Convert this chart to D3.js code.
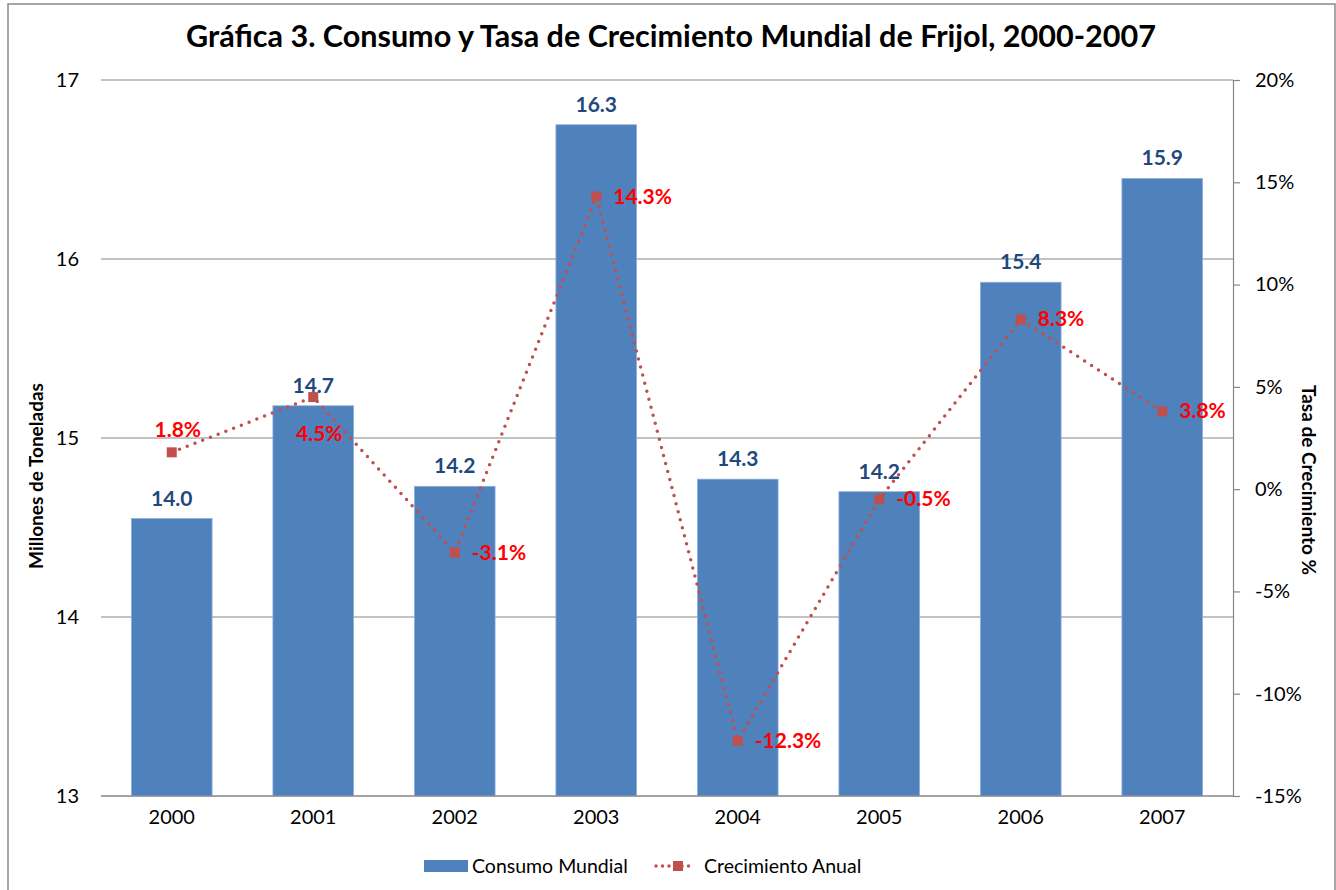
<!DOCTYPE html>
<html>
<head>
<meta charset="utf-8">
<script src="https://cdn.jsdelivr.net/npm/d3@7"></script>
<style>
  body { margin: 0; background: #fff; }
  text { font-family: Lato, "Liberation Sans", sans-serif; }
</style>
</head>
<body>
<div class="chart"></div>
<script>
// data
const years = ["2000", "2001", "2002", "2003", "2004", "2005", "2006", "2007"];
const consumo = [14.55, 15.18, 14.73, 16.75, 14.77, 14.70, 15.87, 16.45];   // bar heights (millones de toneladas)
const consumoLabels = ["14.0", "14.7", "14.2", "16.3", "14.3", "14.2", "15.4", "15.9"];
const crecimiento = [1.8, 4.5, -3.1, 14.3, -12.3, -0.5, 8.3, 3.8];           // %
const crecimientoPos = ["top", "bottom", "right", "right", "right", "right", "right", "right"];
const leftTicks = [13, 14, 15, 16, 17];
const rightTicks = [-15, -10, -5, 0, 5, 10, 15, 20];

const W = 1336, H = 890;
const plot = { left: 101, right: 1233, top: 80, bottom: 796 };

const svg = d3.select(".chart").append("svg")
    .attr("width", W)
    .attr("height", H);

// chart border
svg.append("rect")
    .attr("x", 8).attr("y", 4)
    .attr("width", 1327).attr("height", 895)
    .attr("fill", "#fff")
    .attr("stroke", "#8a8a8a")
    .attr("stroke-width", 1.5);

const x = d3.scaleBand()
    .domain(years)
    .range([plot.left, plot.right])
    .paddingInner(0.43)
    .paddingOuter(0.215);

const yL = d3.scaleLinear().domain([13, 17]).range([plot.bottom, plot.top]);
const yR = d3.scaleLinear().domain([-15, 20]).range([plot.bottom, plot.top]);

// gridlines
svg.append("g")
    .selectAll("line")
    .data(leftTicks)
    .enter().append("line")
    .attr("x1", plot.left).attr("x2", plot.right)
    .attr("y1", d => yL(d)).attr("y2", d => yL(d))
    .attr("stroke", "#868686")
    .attr("stroke-width", 1.2);

// left axis labels
const leftAxis = svg.append("g")
    .attr("transform", `translate(${plot.left},0)`)
    .call(d3.axisLeft(yL).tickValues(leftTicks).tickSize(0).tickPadding(22).tickFormat(d3.format("d")));
leftAxis.select(".domain").remove();
leftAxis.selectAll("text")
    .style("font-size", "20px")
    .attr("fill", "#000");

// right axis
const rightAxis = svg.append("g")
    .attr("transform", `translate(${plot.right},0)`)
    .call(d3.axisRight(yR).tickValues(rightTicks).tickSize(7).tickSizeOuter(0).tickPadding(15).tickFormat(d => d + "%"));
rightAxis.select(".domain").attr("stroke", "#868686").attr("stroke-width", 1.2);
rightAxis.selectAll("line").attr("stroke", "#868686").attr("stroke-width", 1.2);
rightAxis.selectAll("text")
    .style("font-size", "20px")
    .attr("fill", "#000");

// bars
svg.append("g")
    .selectAll("rect")
    .data(consumo)
    .enter().append("rect")
    .attr("x", (d, i) => x(years[i]))
    .attr("y", d => yL(d))
    .attr("width", x.bandwidth())
    .attr("height", d => plot.bottom - yL(d))
    .attr("fill", "#4f81bd")
    .attr("stroke", "#8eaedb")
    .attr("stroke-width", 0.8);

// bottom axis
const bottomAxis = svg.append("g")
    .attr("transform", `translate(0,${plot.bottom})`)
    .call(d3.axisBottom(x).tickSize(0).tickPadding(14));
bottomAxis.select(".domain")
    .attr("d", `M${plot.left},0H${plot.right}`)
    .attr("stroke", "#868686").attr("stroke-width", 1.2);
bottomAxis.selectAll("text")
    .style("font-size", "20px")
    .attr("fill", "#000");

// bar labels
svg.append("g")
    .selectAll("text")
    .data(consumoLabels)
    .enter().append("text")
    .attr("x", (d, i) => x(years[i]) + x.bandwidth() / 2)
    .attr("y", (d, i) => yL(consumo[i]) - 13)
    .attr("text-anchor", "middle")
    .style("font-size", "21px")
    .style("font-weight", "bold")
    .attr("fill", "#1f497d")
    .text(d => d);

// growth line
const cx = i => x(years[i]) + x.bandwidth() / 2;
const line = d3.line()
    .x((d, i) => cx(i))
    .y(d => yR(d));

svg.append("path")
    .datum(crecimiento)
    .attr("d", line)
    .attr("fill", "none")
    .attr("stroke", "#c0504d")
    .attr("stroke-width", 3.5)
    .attr("stroke-linecap", "round")
    .attr("stroke-dasharray", "0 8.3");

svg.append("g")
    .selectAll("rect")
    .data(crecimiento)
    .enter().append("rect")
    .attr("x", (d, i) => cx(i) - 5)
    .attr("y", d => yR(d) - 5)
    .attr("width", 10)
    .attr("height", 10)
    .attr("fill", "#c0504d");

svg.append("g")
    .selectAll("text")
    .data(crecimiento)
    .enter().append("text")
    .attr("x", (d, i) => crecimientoPos[i] === "right" ? cx(i) + 17 : cx(i) + 6)
    .attr("y", (d, i) => {
        if (crecimientoPos[i] === "top") return yR(d) - 15;
        if (crecimientoPos[i] === "bottom") return yR(d) + 44;
        return yR(d) + 7;
    })
    .attr("text-anchor", (d, i) => crecimientoPos[i] === "right" ? "start" : "middle")
    .style("font-size", "21px")
    .style("font-weight", "bold")
    .attr("fill", "#ff0000")
    .text(d => d.toFixed(1) + "%");

// axis titles
svg.append("text")
    .attr("transform", "translate(43,476) rotate(-90)")
    .attr("text-anchor", "middle")
    .style("font-size", "19px")
    .style("font-weight", "bold")
    .text("Millones de Toneladas");

svg.append("text")
    .attr("transform", "translate(1302,480) rotate(90)")
    .attr("text-anchor", "middle")
    .style("font-size", "19px")
    .style("font-weight", "bold")
    .text("Tasa de Crecimiento %");

// title
const title = svg.append("text")
    .attr("x", 671)
    .attr("y", 47)
    .attr("text-anchor", "middle")
    .style("font-size", "27px")
    .style("font-weight", "bold")
    .text("Gráfica 3. Consumo y Tasa de Crecimiento Mundial de Frijol, 2000-2007");
// fit title to the width it takes in the original
const tw = title.node().getComputedTextLength();
title.style("font-size", (27 * 970 / tw) + "px");

// legend
const legend = svg.append("g");
legend.append("rect")
    .attr("x", 424).attr("y", 860)
    .attr("width", 44).attr("height", 12)
    .attr("fill", "#4f81bd");
legend.append("text")
    .attr("x", 472).attr("y", 873)
    .style("font-size", "19.5px")
    .text("Consumo Mundial");
legend.append("line")
    .attr("x1", 656).attr("x2", 695)
    .attr("y1", 866).attr("y2", 866)
    .attr("stroke", "#c0504d")
    .attr("stroke-width", 3.5)
    .attr("stroke-linecap", "round")
    .attr("stroke-dasharray", "0 6.5");
legend.append("rect")
    .attr("x", 673).attr("y", 861)
    .attr("width", 10).attr("height", 10)
    .attr("fill", "#c0504d");
legend.append("text")
    .attr("x", 704).attr("y", 873)
    .style("font-size", "19.5px")
    .text("Crecimiento Anual");
</script>
</body>
</html>
